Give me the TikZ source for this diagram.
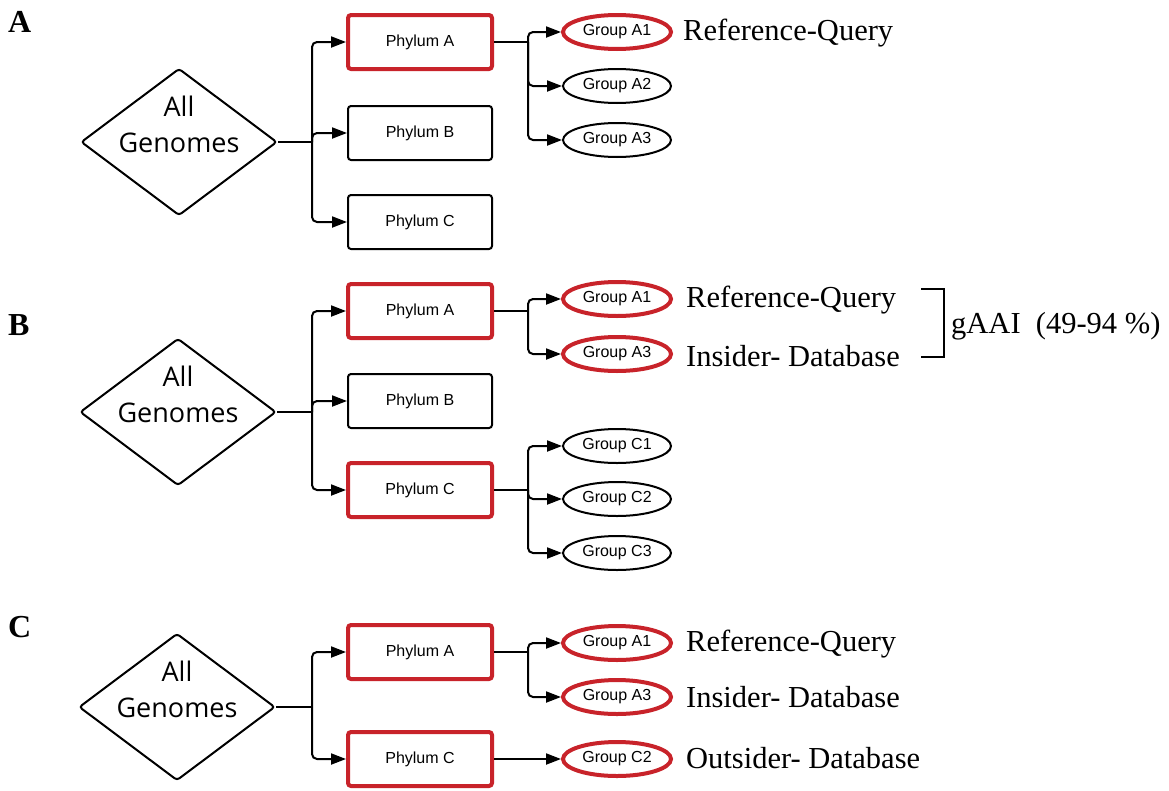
\documentclass[tikz,border=0pt]{standalone}
\usepackage{fontspec}
\setmainfont{Liberation Serif}
\newfontfamily\osans{Open Sans}
\newfontfamily\lsans{Liberation Sans}
\usetikzlibrary{shapes.geometric,arrows.meta}
\definecolor{myred}{RGB}{200,35,42}
\tikzset{
  phy/.style={draw, rounded corners=3pt, line width=2pt, minimum width=144pt, minimum height=54pt, inner sep=0pt, font=\lsans\fontsize{16}{18}\selectfont},
  phyred/.style={phy, draw=myred, line width=4pt},
  grp/.style={ellipse, draw, line width=2pt, minimum width=108pt, minimum height=34pt, inner sep=0pt, font=\lsans\fontsize{16}{18}\selectfont},
  grpred/.style={grp, draw=myred, line width=4pt},
  dia/.style={diamond, draw, line width=2pt, rounded corners=3pt, minimum width=196pt, minimum height=147pt, inner sep=0pt},
  diatext/.style={align=center, font=\osans\fontsize{27}{36}\selectfont, inner sep=0pt},
  link/.style={line width=2pt, rounded corners=5pt},
  arr/.style={link, -{Triangle[length=15pt,width=11pt]}},
  note/.style={anchor=base west, inner sep=0pt, font=\fontsize{30.5}{36}\selectfont},
  panel/.style={anchor=base west, inner sep=0pt, font=\bfseries\fontsize{32}{36}\selectfont}
}
\begin{document}
\begin{tikzpicture}[x=1pt,y=-1pt]
\useasboundingbox (0,0) rectangle (1169,790);

% ---------- Panel A ----------
\node[panel] (lA) at (8,32) {A};
\node[dia] (d1) at (179,142) {};
\node[diatext] (t1) at (179,124) {All\\Genomes};
\node[phyred] (pA1) at (420,42) {Phylum A};
\node[phy] (pB1) at (420,133) {Phylum B};
\node[phy] (pC1) at (420,222) {Phylum C};
\coordinate (j1) at (312,142);
\draw[link] (d1.east) -- (j1);
\draw[arr] (j1) |- (pA1.west);
\draw[arr] (j1) |- (pB1.west);
\draw[arr] (j1) |- (pC1.west);
\node[grpred] (gA1a) at (617,32) {Group A1};
\node[grp] (gA2a) at (617,86) {Group A2};
\node[grp] (gA3a) at (617,140) {Group A3};
\coordinate (k1) at (528,42);
\draw[link] (pA1.east) -- (k1);
\draw[arr] (k1) |- (gA1a.west);
\draw[arr] (k1) |- (gA2a.west);
\draw[arr] (k1) |- (gA3a.west);
\node[note] (rq1) at (683,40) {Reference-Query};

% ---------- Panel B ----------
\node[panel] (lB) at (8,335) {B};
\node[dia] (d2) at (178,412) {};
\node[diatext] (t2) at (178,394) {All\\Genomes};
\node[phyred] (pA2) at (420,311) {Phylum A};
\node[phy] (pB2) at (420,401) {Phylum B};
\node[phyred] (pC2) at (420,490) {Phylum C};
\coordinate (j2) at (312,412);
\draw[link] (d2.east) -- (j2);
\draw[arr] (j2) |- (pA2.west);
\draw[arr] (j2) |- (pB2.west);
\draw[arr] (j2) |- (pC2.west);
\node[grpred] (gA1b) at (617,299) {Group A1};
\node[grpred] (gA3b) at (617,354) {Group A3};
\coordinate (k2a) at (528,311);
\draw[link] (pA2.east) -- (k2a);
\draw[arr] (k2a) |- (gA1b.west);
\draw[arr] (k2a) |- (gA3b.west);
\node[grp] (gC1b) at (617,446) {Group C1};
\node[grp] (gC2b) at (617,499) {Group C2};
\node[grp] (gC3b) at (617,553) {Group C3};
\coordinate (k2c) at (528,490);
\draw[link] (pC2.east) -- (k2c);
\draw[arr] (k2c) |- (gC1b.west);
\draw[arr] (k2c) |- (gC2b.west);
\draw[arr] (k2c) |- (gC3b.west);
\node[note] (rq2) at (686,307) {Reference-Query};
\node[note] (id2) at (686,366) {Insider- Database};
\coordinate (bt1) at (921,289);
\coordinate (bt2) at (944,289);
\coordinate (bb2) at (944,357);
\coordinate (bb1) at (921,357);
\draw[line width=2pt] (bt1) -- (bt2) -- (bb2) -- (bb1);
\node[note] (gaai) at (951,333) {gAAI\ \ (49-94 \%)};

% ---------- Panel C ----------
\node[panel] (lC) at (8,637) {C};
\node[dia] (d3) at (177,707) {};
\node[diatext] (t3) at (177,689) {All\\Genomes};
\node[phyred] (pA3) at (420,652) {Phylum A};
\node[phyred] (pC3) at (420,759) {Phylum C};
\coordinate (j3) at (312,707);
\draw[link] (d3.east) -- (j3);
\draw[arr] (j3) |- (pA3.west);
\draw[arr] (j3) |- (pC3.west);
\node[grpred] (gA1c) at (617,643) {Group A1};
\node[grpred] (gA3c) at (617,697) {Group A3};
\node[grpred] (gC2c) at (617,759) {Group C2};
\coordinate (k3) at (528,652);
\draw[link] (pA3.east) -- (k3);
\draw[arr] (k3) |- (gA1c.west);
\draw[arr] (k3) |- (gA3c.west);
\draw[arr] (pC3.east) -- (gC2c.west);
\node[note] (rq3) at (686,651) {Reference-Query};
\node[note] (id3) at (686,707) {Insider- Database};
\node[note] (od3) at (686,768) {Outsider- Database};
\end{tikzpicture}
\end{document}
